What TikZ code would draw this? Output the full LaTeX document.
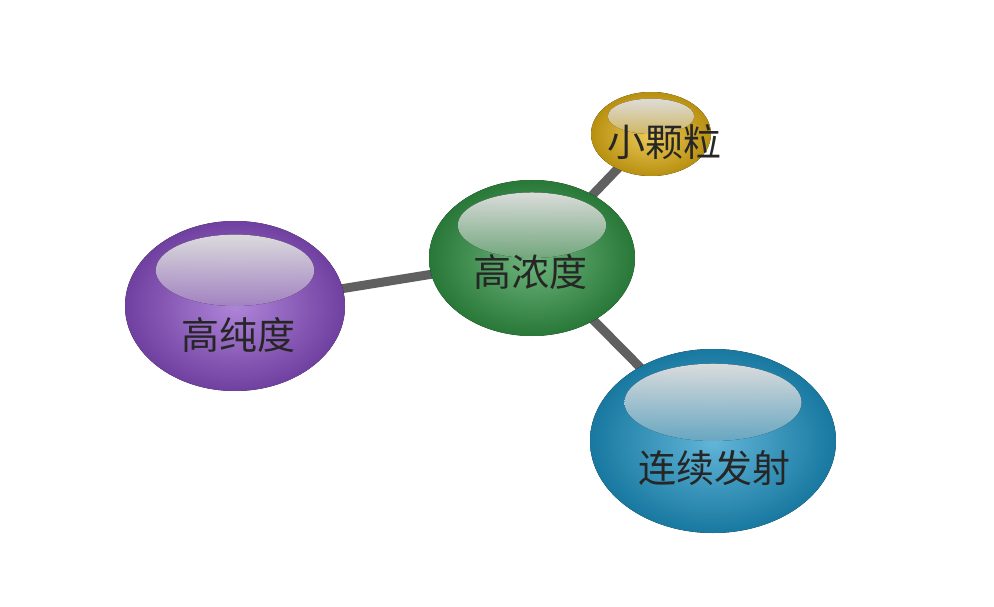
\documentclass[tikz,border=0pt]{standalone}
\usepackage{fontspec}
\newfontfamily\cjk{Noto Sans CJK SC}
\begin{document}
\begin{tikzpicture}[x=1pt,y=-1pt]
\useasboundingbox (0,0) rectangle (994,607);
\tikzset{
 link/.style={line width=9pt,draw=gray!75!black},
 bubble/.style={ellipse shape},
 lbl/.style={font=\cjk\fontsize{38}{40}\selectfont,text=black!85}
}
\newcommand\mybubble[6]{% name,x,y,rx,ry,color
 \coordinate (#1) at (#2,#3);
 \fill[shading=radial,inner color=#6!70,outer color=#6!80!black] (#2,#3) ellipse [x radius=#4,y radius=#5];
 \fill[top color=white,bottom color=#6!60,opacity=0.85] (#2,#3-#5*0.42) ellipse [x radius=#4*0.72,y radius=#5*0.42];
}
\coordinate (p) at (235,306);
\coordinate (g) at (532,258);
\coordinate (y) at (651,134);
\coordinate (b) at (713,441);
\draw[link] (p) -- (g);
\draw[link] (g) -- (y);
\draw[link] (g) -- (b);
\definecolor{pur}{RGB}{140,80,200}
\definecolor{grn}{RGB}{50,150,70}
\definecolor{yel}{RGB}{230,180,20}
\definecolor{blu}{RGB}{30,150,200}
\mybubble{pb}{235}{306}{110}{85}{pur}
\mybubble{gb}{532}{258}{103}{78}{grn}
\mybubble{yb}{651}{134}{60}{42}{yel}
\mybubble{bb}{713}{441}{123}{92}{blu}
\node[lbl] (tp) at (238,335) {高纯度};
\node[lbl] (tg) at (530,272) {高浓度};
\node[lbl] (ty) at (664,142) {小颗粒};
\node[lbl] (tb) at (714,468) {连续发射};
\end{tikzpicture}
\end{document}
